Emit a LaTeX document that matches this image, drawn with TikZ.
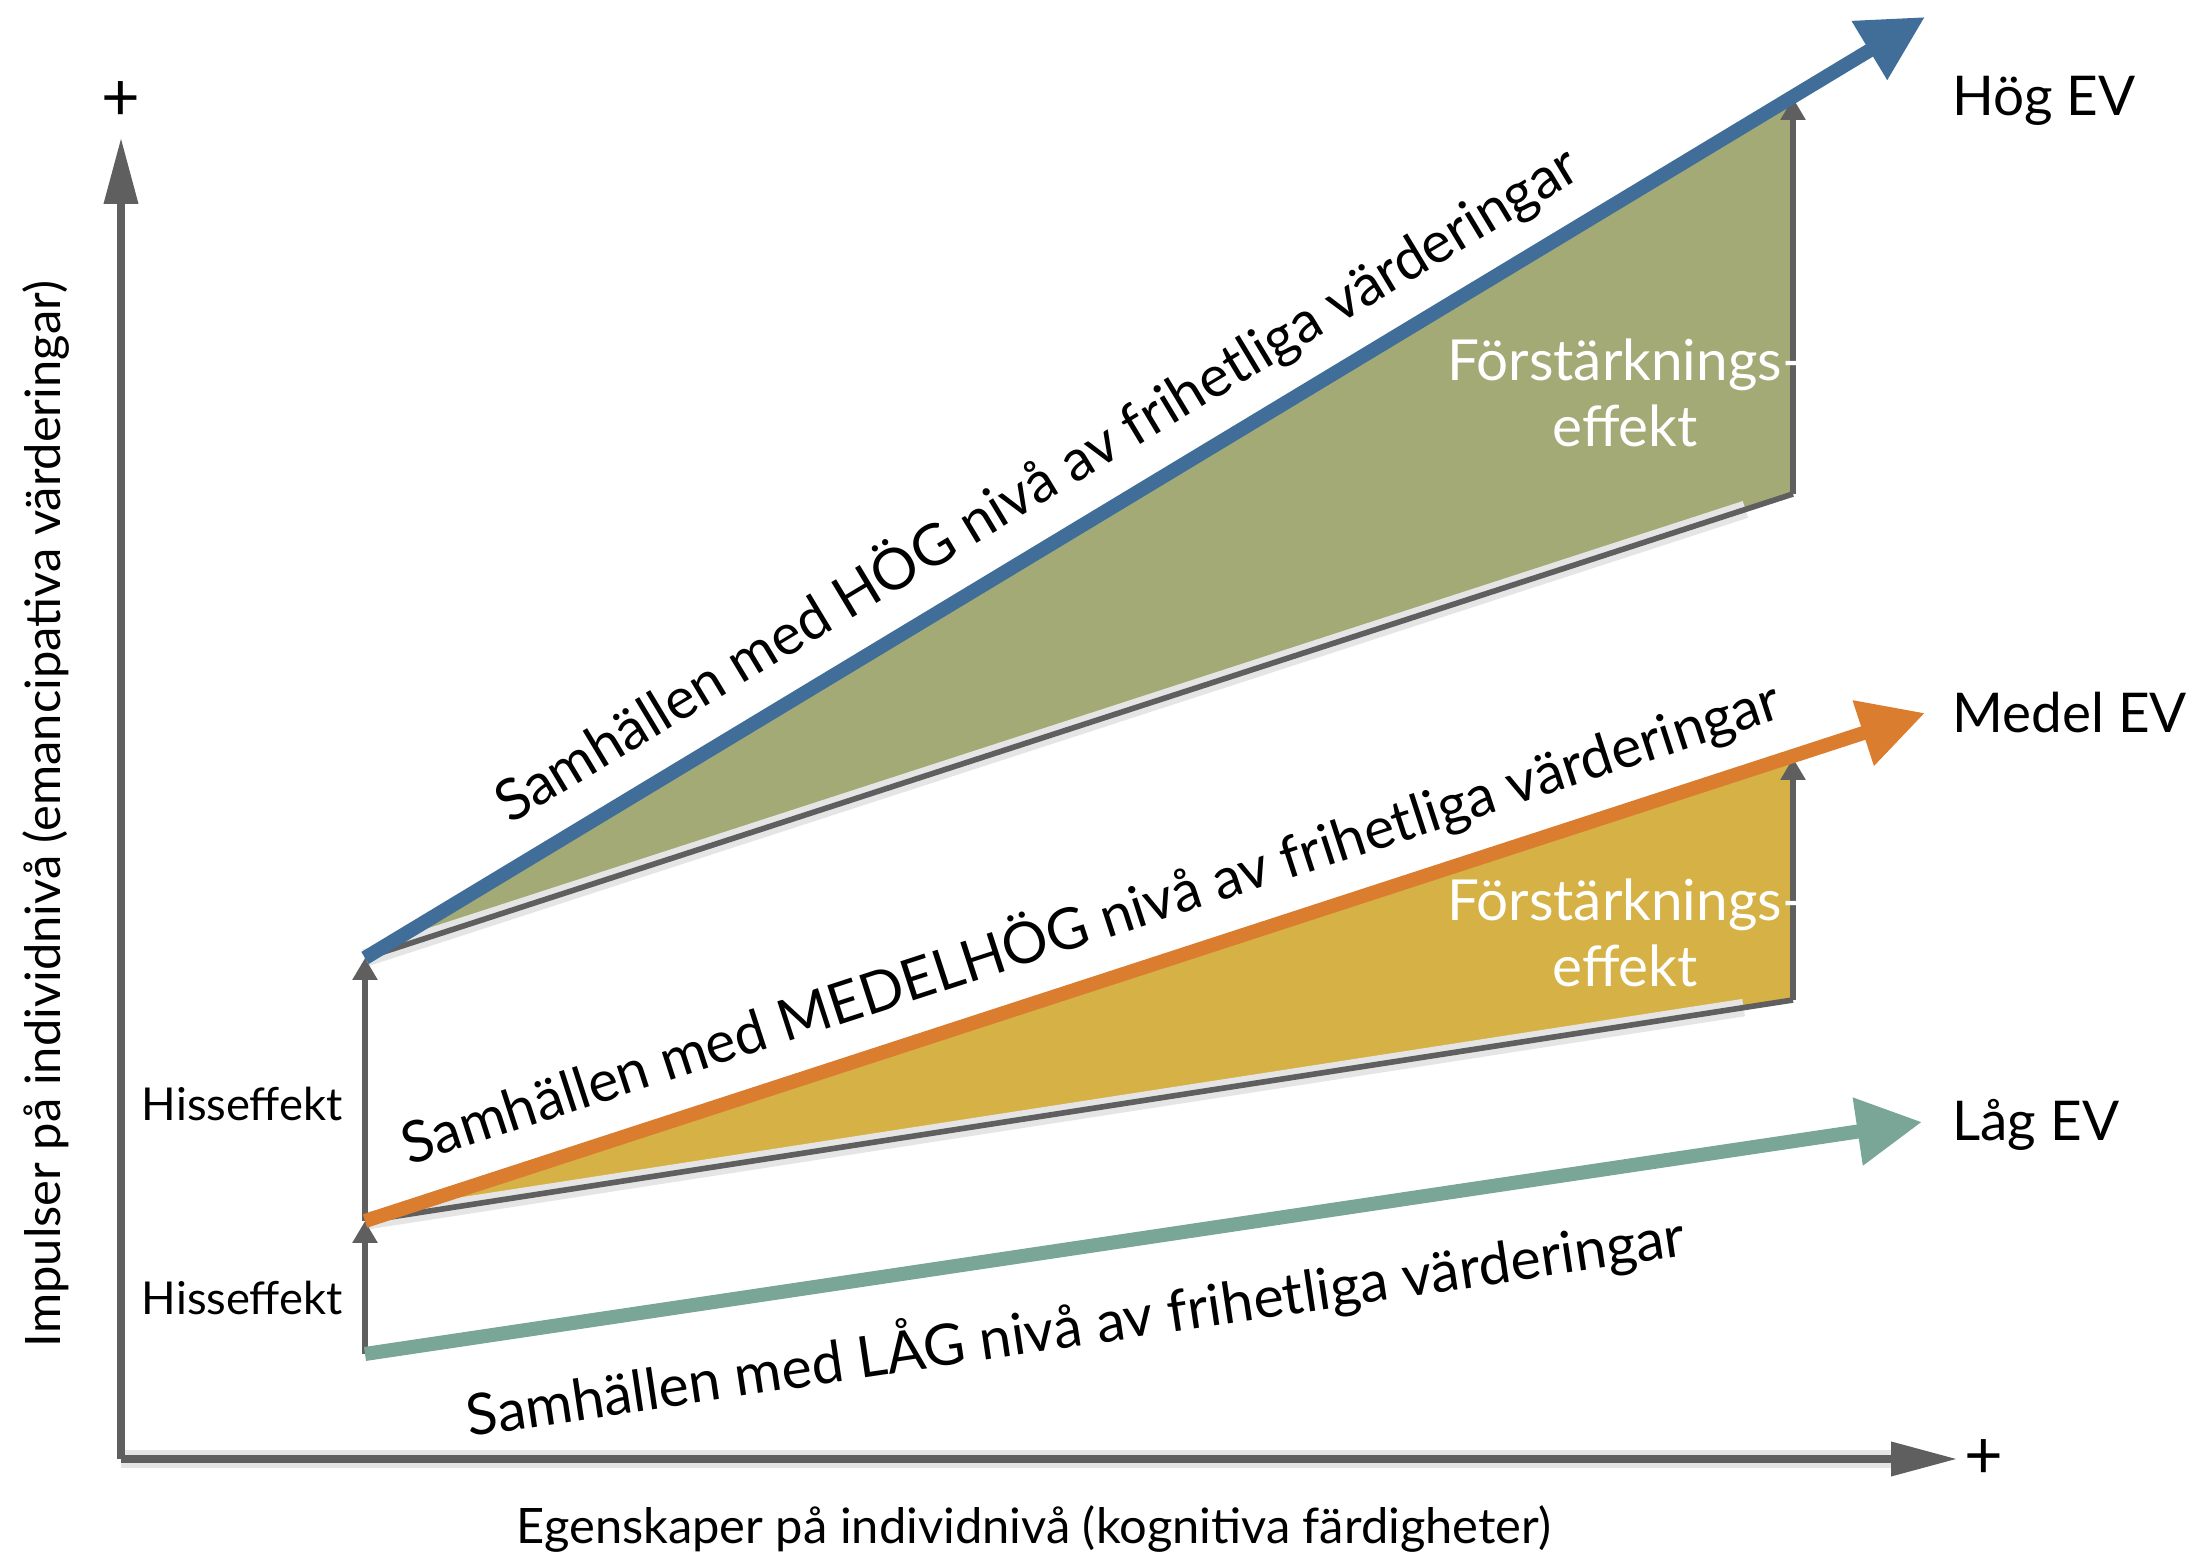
\documentclass[tikz,border=0pt]{standalone}
\usepackage{fontspec}
\setmainfont{Lato}
\usetikzlibrary{arrows.meta}

\definecolor{hogblue}{RGB}{64,110,152}
\definecolor{medorange}{RGB}{219,125,47}
\definecolor{lagteal}{RGB}{122,166,152}
\definecolor{hogfill}{RGB}{163,170,118}
\definecolor{medfill}{RGB}{214,177,70}
\definecolor{axisgray}{RGB}{95,95,95}

\newcommand*{\slopetext}{\fontsize{16.3}{19}\selectfont}
\newcommand*{\evtext}{\fontsize{15.6}{19}\selectfont}
\newcommand{\evband}[4]{%
% start, top right, bottom right, fill colour
  \fill[#4] (#1) -- (#2) -- (#3) -- cycle;
  \draw[shadowline] (#1) -- (#3);
  \draw[edgeline] (#1) -- (#3);
  \draw[liftarrow] (#3) -- (#2);
}

\tikzset{
  axisline/.style = {axisgray, line width=2pt,
    -{Triangle[length=0.66cm, width=0.33cm]}},
  shadowline/.style = {black!10, line width=5pt, yshift=-0.07cm,
    shorten >=0.5cm},
  edgeline/.style = {axisgray, line width=1.6pt},
  liftarrow/.style = {axisgray, line width=1.6pt,
    -{Triangle[length=0.22cm, width=0.24cm]}},
  evarrow/.style = {#1, line width=4pt,
    -{Triangle[length=0.65cm, width=0.65cm]}},
  sidetext/.style = {font=\fontsize{12.9}{15}\selectfont, anchor=east},
  fortext/.style = {white, align=center,
    font=\fontsize{16.1}{19}\selectfont},
  axistext/.style = {font=\fontsize{13.9}{16}\selectfont},
  slopelabel/.style = {sloped, text=black, font=\slopetext},
}

\begin{document}
\begin{tikzpicture}
  \useasboundingbox (0,0) rectangle (22,15.6);

  % axes
  \coordinate (origin) at (1.21,1.01);
  \coordinate (ytip) at (1.21,14.22);
  \coordinate (xtip) at (19.57,1.01);
  \draw[shadowline] (origin) -- (xtip);
  \draw[axisline] (origin) -- (ytip);
  \draw[axisline] (origin) -- (xtip);
  \node[font=\fontsize{19}{22}\selectfont] (yplus) at (1.21,14.59) {+};
  \node[font=\fontsize{19}{22}\selectfont] (xplus) at (19.84,1.01) {+};
  \node[axistext] (xlabel) at (10.34,0.31)
    {Egenskaper på individnivå (kognitiva färdigheter)};
  \node[axistext, rotate=90] (ylabel) at (0.46,7.46)
    {Impulser på individnivå (emancipativa värderingar)};

  % start and end points
  \coordinate (lagStart) at (3.65,2.06);
  \coordinate (medStart) at (3.65,3.39);
  \coordinate (hogStart) at (3.65,6.02);
  \coordinate (lagEnd) at (19.22,4.38);
  \coordinate (medEnd) at (19.25,8.47);
  \coordinate (hogEnd) at (19.25,15.43);
  \coordinate (hogTop) at (17.93,14.62);
  \coordinate (hogLow) at (17.93,10.66);
  \coordinate (medTop) at (17.93,8.02);
  \coordinate (medLow) at (17.93,5.60);

  % forstarkningseffekt
  \evband{hogStart}{hogTop}{hogLow}{hogfill}
  \evband{medStart}{medTop}{medLow}{medfill}
  \node[fortext] (hogFor) at (16.25,11.67) {Förstärknings-\\effekt};
  \node[fortext] (medFor) at (16.25,6.27) {Förstärknings-\\effekt};

  % hisseffekt
  \draw[liftarrow] (lagStart) -- (medStart);
  \draw[liftarrow] (medStart) -- (hogStart);
  \node[sidetext] (hissLow) at (3.55,2.62) {Hisseffekt};
  \node[sidetext] (hissHigh) at (3.55,4.56) {Hisseffekt};

  % samhallen
  \draw[evarrow=lagteal] (lagStart) -- (lagEnd)
    node[pos=0.449, below=0.25cm, slopelabel] (lagText)
    {Samhällen med LÅG nivå av frihetliga värderingar};
  \draw[evarrow=medorange] (medStart) -- (medEnd)
    node[pos=0.477, above=0.1cm, slopelabel] (medText)
    {Samhällen med MEDELHÖG nivå av frihetliga värderingar};
  \draw[evarrow=hogblue] (hogStart) -- (hogEnd)
    node[pos=0.45, above=0.1cm, slopelabel] (hogText)
    {Samhällen med HÖG nivå av frihetliga värderingar};

  \node[anchor=west, font=\evtext] (hogEV) at (19.40,14.59) {Hög EV};
  \node[anchor=west, font=\evtext] (medEV) at (19.40,8.47) {Medel EV};
  \node[anchor=west, font=\evtext] (lagEV) at (19.40,4.35) {Låg EV};

\end{tikzpicture}
\end{document}
